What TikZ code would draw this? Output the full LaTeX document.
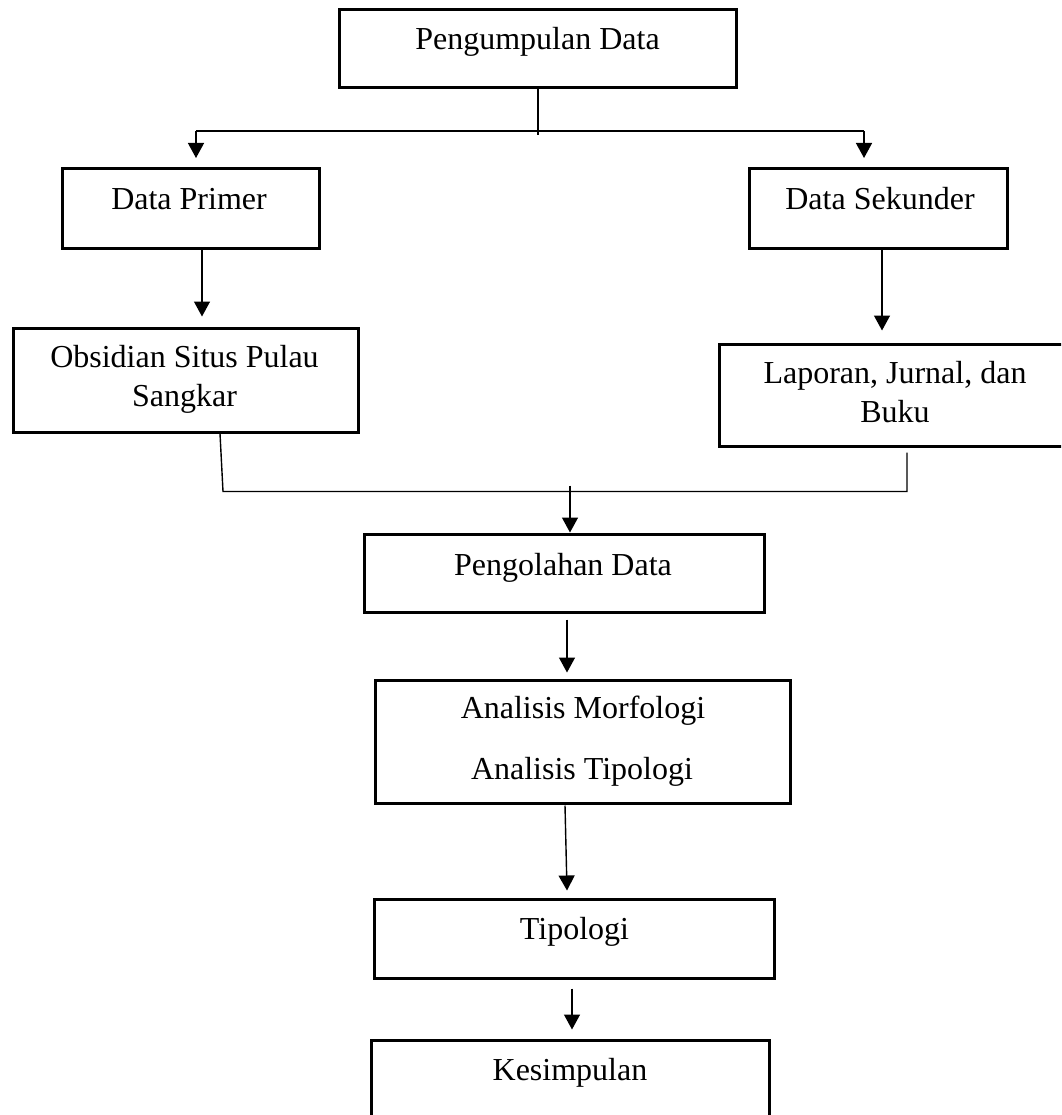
\documentclass[tikz,border=0pt]{standalone}
\usepackage{fontspec}
\setmainfont{Liberation Serif}
\usetikzlibrary{arrows.meta}
\begin{document}
\begin{tikzpicture}[x=1pt,y=-1pt,
  box/.style={draw=black,line width=3pt,inner sep=0pt},
  txt/.style={anchor=base,inner sep=0pt,font=\fontsize{32}{38}\selectfont},
  ln/.style={line width=1.4pt},
  arr/.style={line width=1.4pt,-{Triangle[length=15pt,width=16pt]}}]
\useasboundingbox (0,0) rectangle (1061,1115);
\clip (0,0) rectangle (1061,1115);

% boxes
\node[box,minimum width=397pt,minimum height=78pt] (pd) at (537.5,49) {};
\node[box,minimum width=257pt,minimum height=79pt] (dp) at (190.5,208.5) {};
\node[box,minimum width=258pt,minimum height=79pt] (ds) at (878,208.5) {};
\node[box,minimum width=345pt,minimum height=104pt] (ob) at (185.5,380) {};
\node[box,minimum width=350pt,minimum height=102pt] (lp) at (894,395) {};
\node[box,minimum width=400pt,minimum height=78pt] (pg) at (564,573) {};
\node[box,minimum width=415pt,minimum height=123pt] (an) at (582.5,741.5) {};
\node[box,minimum width=400pt,minimum height=79pt] (tp) at (574,938.5) {};
\node[box,minimum width=398pt,minimum height=80pt] (ks) at (570,1080) {};

% texts
\node[txt] (tpd) at (537.5,50) {Pengumpulan Data};
\node[txt] (tdp) at (189,210) {Data Primer};
\node[txt] (tds) at (880,210) {Data Sekunder};
\node[txt] (tob1) at (184.5,367) {Obsidian Situs Pulau};
\node[txt] (tob2) at (184.5,406) {Sangkar};
\node[txt] (tlp1) at (895,383) {Laporan, Jurnal, dan};
\node[txt] (tlp2) at (895,422) {Buku};
\node[txt] (tpg) at (563,575) {Pengolahan Data};
\node[txt] (tan1) at (583,718) {Analisis Morfologi};
\node[txt] (tan2) at (582,779) {Analisis Tipologi};
\node[txt] (ttp) at (574.5,939) {Tipologi};
\node[txt] (tks) at (570,1080) {Kesimpulan};

% connectors
\draw[ln] ([xshift=0.5pt,yshift=3pt]pd.south) -- ++(0,49);
\coordinate (jl) at (196,131);
\coordinate (jr) at (864,131);
\draw[ln] (jl) -- (jr);
\draw[arr] (jl) -- ++(0,27);
\draw[arr] (jr) -- ++(0,27);

\draw[arr] ([xshift=11.5pt]dp.south) -- ++(0,67);
\draw[arr] ([xshift=4pt]ds.south) -- ++(0,81);

\draw[ln] ([xshift=34.5pt]ob.south) -- ++(3,58) coordinate (jb) -- ++(684,0) -- ++(0,-39);
\draw[arr] ([xshift=6pt,yshift=47pt]pg.north) -- ([xshift=6pt]pg.north);

\draw[arr] ([xshift=3pt,yshift=-6pt]pg.south) -- ++(0,53);
\draw[arr] ([xshift=-17.5pt,yshift=-1pt]an.south) -- ++(2,85);
\draw[arr] ([xshift=-2pt,yshift=-9pt]tp.south) -- ++(0,41);
\end{tikzpicture}
\end{document}
